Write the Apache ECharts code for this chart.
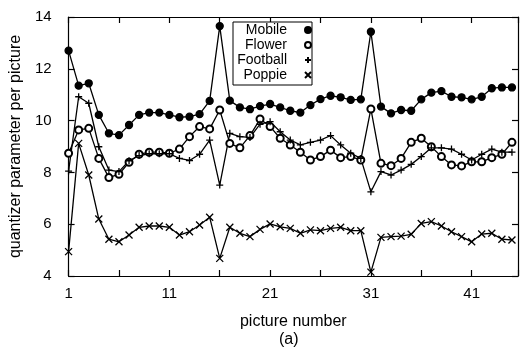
<!DOCTYPE html>
<html>
<head>
<meta charset="utf-8">
<script src="https://cdn.jsdelivr.net/npm/echarts@6/dist/echarts.min.js"></script>
<style>html,body{margin:0;padding:0;background:#fff;}#c{width:521px;height:349px;}</style>
</head>
<body>
<div id="c"></div>
<script>
const pictures = [1,2,3,4,5,6,7,8,9,10,11,12,13,14,15,16,17,18,19,20,21,22,23,24,25,26,27,28,29,30,31,32,33,34,35,36,37,38,39,40,41,42,43,44,45];
const xTickLabels = [1, 11, 21, 31, 41];
const yTickLabels = [4, 6, 8, 10, 12, 14];
const seriesNames = ['Mobile', 'Flower', 'Football', 'Poppie'];
const mobile = [12.70,11.35,11.44,10.22,9.51,9.44,9.83,10.22,10.31,10.31,10.22,10.13,10.15,10.25,10.76,13.65,10.77,10.51,10.44,10.56,10.64,10.51,10.38,10.31,10.60,10.83,10.96,10.90,10.80,10.82,13.43,10.54,10.28,10.41,10.38,10.82,11.08,11.14,10.92,10.90,10.82,10.92,11.25,11.28,11.28];
const flower = [8.74,9.64,9.70,8.54,7.80,7.93,8.39,8.70,8.78,8.78,8.74,8.90,9.38,9.77,9.68,10.41,9.12,8.95,9.42,10.06,9.77,9.32,9.06,8.78,8.48,8.61,8.86,8.57,8.61,8.48,10.45,8.35,8.26,8.54,9.16,9.32,8.99,8.61,8.29,8.25,8.41,8.41,8.57,8.70,9.16];
const football = [8.05,10.92,10.67,8.99,8.09,8.03,8.45,8.65,8.72,8.72,8.72,8.54,8.46,8.70,9.25,7.51,9.51,9.38,9.35,9.86,9.96,9.57,9.25,9.06,9.16,9.25,9.42,9.06,8.74,8.54,7.25,8.03,7.90,8.09,8.31,8.61,8.95,8.95,8.90,8.70,8.48,8.70,8.90,8.78,8.78];
const poppie = [4.94,9.12,7.90,6.20,5.42,5.32,5.58,5.88,5.93,5.93,5.88,5.58,5.71,5.97,6.27,4.68,5.88,5.65,5.52,5.80,6.01,5.90,5.84,5.65,5.78,5.75,5.84,5.88,5.75,5.75,4.15,5.49,5.52,5.54,5.61,6.03,6.10,5.93,5.71,5.52,5.32,5.62,5.65,5.42,5.39];

const plusPath = 'path://M0,5L10,5M5,0L5,10';
const crossPath = 'path://M0,0L10,10M10,0L0,10';
const FONT = '"Liberation Sans", Arial, Helvetica, sans-serif';

function pairs(vals) { return pictures.map((p, i) => [p, vals[i]]); }

const symbols = ['circle', 'emptyCircle', plusPath, crossPath];
const sizes = [7, 7, 7, 7];
const values = [mobile, flower, football, poppie];

const series = seriesNames.map((n, k) => ({
  name: n,
  type: 'line',
  data: pairs(values[k]),
  symbol: symbols[k],
  symbolSize: sizes[k],
  showAllSymbol: true,
  lineStyle: { color: '#000', width: 1.3 },
  itemStyle: { color: '#000', borderColor: '#000', borderWidth: 1.3 },
  emphasis: { disabled: true },
  animation: false,
  z: 3
}));

const axisLine = { show: true, lineStyle: { color: '#000', width: 1.2 } };
const axisTick = { show: true, inside: true, length: 6, lineStyle: { color: '#000', width: 1.2 } };

const chart = echarts.init(document.getElementById('c'), null, { renderer: 'canvas' });
chart.setOption({
  backgroundColor: '#fff',
  animation: false,
  title: {
    text: '(a)', left: 279, top: 332, padding: 0,
    textStyle: { fontFamily: FONT, fontSize: 16, fontWeight: 'normal', color: '#000' }
  },
  grid: { left: 64, right: 1, top: 17, bottom: 73 },
  legend: {
    orient: 'vertical', left: 233, top: 22, align: 'right',
    padding: [1, 0, 3, 4], itemGap: 1, itemWidth: 32, itemHeight: 6,
    backgroundColor: '#fff', borderColor: '#000', borderWidth: 1,
    selectedMode: false,
    lineStyle: { opacity: 0 },
    data: seriesNames.map((n, k) => ({ name: n, icon: symbols[k] })),
    formatter: n => '{a|' + n + '}',
    textStyle: {
      fontFamily: FONT, fontSize: 14, color: '#000',
      rich: { a: { width: 50, align: 'right', fontFamily: FONT, fontSize: 14, lineHeight: 15, color: '#000' } }
    }
  },
  xAxis: [{
    type: 'value', min: 1, max: 45.6, interval: 5, position: 'bottom',
    name: 'picture number', nameLocation: 'middle', nameGap: 38,
    nameTextStyle: { fontFamily: FONT, fontSize: 16, color: '#000' },
    axisLine, axisTick, splitLine: { show: false },
    axisLabel: {
      margin: 10, fontFamily: FONT, fontSize: 15, color: '#000',
      formatter: v => xTickLabels.indexOf(v) >= 0 ? String(v) : ''
    }
  }, {
    type: 'value', min: 1, max: 45.6, interval: 5, position: 'top',
    axisLine, axisTick, splitLine: { show: false }, axisLabel: { show: false }
  }],
  yAxis: [{
    type: 'value', min: 4, max: 14, interval: 2, position: 'left',
    name: 'quantizer parameter per picture', nameLocation: 'middle', nameGap: 44,
    nameTextStyle: { fontFamily: FONT, fontSize: 16, color: '#000' },
    axisLine, axisTick, splitLine: { show: false },
    axisLabel: {
      margin: 17, fontFamily: FONT, fontSize: 15, color: '#000',
      formatter: v => yTickLabels.indexOf(v) >= 0 ? String(v) : ''
    }
  }, {
    type: 'value', min: 4, max: 14, interval: 2, position: 'right',
    axisLine, axisTick, splitLine: { show: false }, axisLabel: { show: false }
  }],
  series
});
</script>
</body>
</html>
